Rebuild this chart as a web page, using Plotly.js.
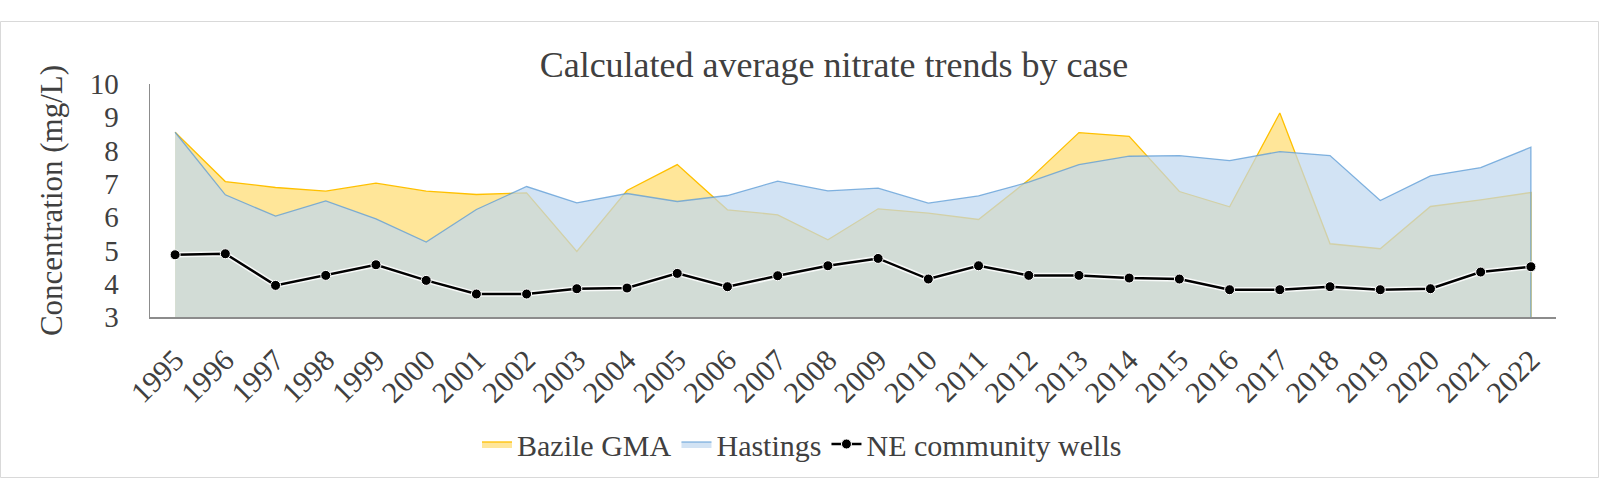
<!DOCTYPE html>
<html>
<head>
<meta charset="utf-8">
<script src="https://cdn.plot.ly/plotly-3.0.1.min.js"></script>
<style>
  html, body { margin: 0; padding: 0; background: #ffffff; }
  #chart { width: 1600px; height: 500px; }
</style>
</head>
<body>
<div id="chart"></div>
<script>
// ---- data ----
const years = ['1995','1996','1997','1998','1999','2000','2001','2002','2003','2004',
               '2005','2006','2007','2008','2009','2010','2011','2012','2013','2014',
               '2015','2016','2017','2018','2019','2020','2021','2022'];
const bazileGMA = [8.55, 7.07, 6.89, 6.78, 7.02, 6.78, 6.68, 6.73, 4.97, 6.80,
                   7.58, 6.22, 6.07, 5.32, 6.25, 6.12, 5.93, 7.12, 8.54, 8.43,
                   6.77, 6.31, 9.13, 5.20, 5.05, 6.32, 6.52, 6.74];
const hastings  = [8.55, 6.67, 6.03, 6.49, 5.95, 5.25, 6.23, 6.92, 6.43, 6.71,
                   6.47, 6.65, 7.08, 6.79, 6.87, 6.42, 6.64, 7.05, 7.58, 7.83,
                   7.85, 7.70, 7.97, 7.85, 6.50, 7.24, 7.49, 8.10];
const neWells   = [4.87, 4.90, 3.95, 4.25, 4.57, 4.10, 3.69, 3.69, 3.85, 3.87,
                   4.31, 3.91, 4.24, 4.54, 4.76, 4.14, 4.54, 4.25, 4.25, 4.17,
                   4.14, 3.82, 3.82, 3.91, 3.82, 3.85, 4.35, 4.51];
const seriesNames = ['Bazile GMA', 'Hastings', 'NE community wells'];
const chartTitle = 'Calculated average nitrate trends by case';
const yTitle = 'Concentration (mg/L)';

// area polygon closed down to a baseline below the visible range
const baseline = 0;
function areaX(cats) { return cats.concat([cats[cats.length - 1], cats[0]]); }
function areaY(vals) { return vals.concat([baseline, baseline]); }

const FONT = '"Liberation Serif", "Times New Roman", serif';
const TXT = '#404040';

// pixel geometry helpers
const W = 1600, H = 500;
const mL = 150, mR = 44, mT = 84, mB = 183;
const pw = W - mL - mR, ph = H - mT - mB;
const px = v => (v - mL) / pw;
const py = v => (H - mB - v) / ph;

const traces = [
  {
    type: 'scatter', mode: 'lines', name: seriesNames[0],
    x: areaX(years), y: areaY(bazileGMA),
    fill: 'toself', fillcolor: '#FFE699',
    line: { color: '#FFC000', width: 1.3 },
    hoverinfo: 'skip'
  },
  {
    type: 'scatter', mode: 'lines', name: seriesNames[1],
    x: areaX(years), y: areaY(hastings),
    fill: 'toself', fillcolor: 'rgba(191,215,239,0.7)',
    line: { color: 'rgba(91,155,213,0.75)', width: 1.3 },
    hoverinfo: 'skip'
  },
  {
    type: 'scatter', mode: 'lines', showlegend: false,
    x: years, y: neWells,
    line: { color: 'rgba(255,255,255,0.85)', width: 5.5 },
    hoverinfo: 'skip'
  },
  {
    type: 'scatter', mode: 'lines+markers', name: seriesNames[2],
    x: years, y: neWells,
    line: { color: '#000000', width: 2.5 },
    marker: { color: '#000000', size: 10, line: { color: '#ffffff', width: 1 } },
    hoverinfo: 'skip'
  }
];

const layout = {
  width: W, height: H,
  margin: { l: mL, r: mR, t: mT, b: mB },
  paper_bgcolor: '#ffffff', plot_bgcolor: 'rgba(0,0,0,0)',
  font: { family: FONT, color: TXT, size: 28 },
  title: {
    text: chartTitle,
    font: { family: FONT, size: 36, color: TXT },
    xref: 'container', x: 834 / W, xanchor: 'center',
    yref: 'container', y: 1 - 64 / H, yanchor: 'middle'
  },
  xaxis: {
    type: 'category', range: [-0.5, years.length - 0.5],
    tickangle: -45, showgrid: false, zeroline: false,
    showline: true, linecolor: '#8c8c8c', linewidth: 1.5,
    ticks: '', ticklabelstandoff: 12,
    tickfont: { family: FONT, size: 30, color: TXT },
    fixedrange: true
  },
  yaxis: {
    range: [3, 10], dtick: 1, tick0: 3,
    showgrid: false, zeroline: false,
    showline: true, linecolor: '#8c8c8c', linewidth: 1.5,
    ticks: '', ticklabelstandoff: 24,
    tickfont: { family: FONT, size: 29, color: TXT },
    title: { text: yTitle, font: { family: FONT, size: 31, color: TXT }, standoff: 18 },
    fixedrange: true
  },
  showlegend: true,
  legend: {
    orientation: 'h', x: px(802), xanchor: 'center', y: py(444), yanchor: 'middle',
    font: { family: FONT, size: 30, color: TXT },
    traceorder: 'normal', itemwidth: 30,
    bgcolor: 'rgba(0,0,0,0)'
  },
  shapes: [{
    type: 'rect', xref: 'paper', yref: 'paper', layer: 'below',
    x0: px(0.5), x1: px(1598.5), y0: py(477.5), y1: py(21.5),
    line: { color: '#d9d9d9', width: 1 }, fillcolor: 'rgba(0,0,0,0)'
  }],
  hovermode: false
};

Plotly.newPlot('chart', traces, layout, { staticPlot: true, displayModeBar: false });
</script>
</body>
</html>
